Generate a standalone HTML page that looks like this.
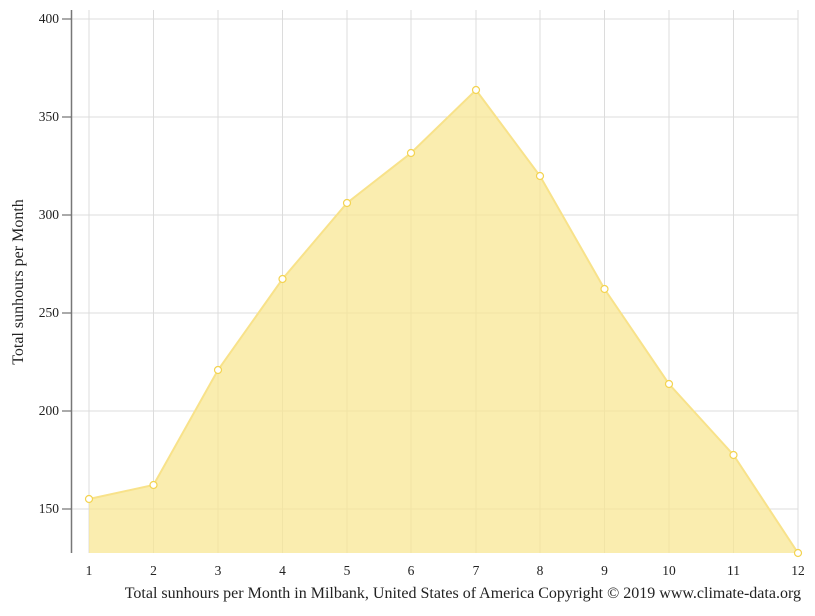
<!DOCTYPE html>
<html><head><style>body{margin:0;background:#fff}</style></head><body>
<svg width="815" height="611" xmlns="http://www.w3.org/2000/svg" font-family="Liberation Serif, serif">
<g stroke="#dcdcdc" stroke-width="1">
<line x1="89" y1="10" x2="89" y2="553"/><line x1="153.5" y1="10" x2="153.5" y2="553"/><line x1="218" y1="10" x2="218" y2="553"/><line x1="282.5" y1="10" x2="282.5" y2="553"/><line x1="347" y1="10" x2="347" y2="553"/><line x1="411" y1="10" x2="411" y2="553"/><line x1="476" y1="10" x2="476" y2="553"/><line x1="540" y1="10" x2="540" y2="553"/><line x1="604.5" y1="10" x2="604.5" y2="553"/><line x1="669" y1="10" x2="669" y2="553"/><line x1="733.5" y1="10" x2="733.5" y2="553"/><line x1="798" y1="10" x2="798" y2="553"/>
<line x1="71" y1="19" x2="798" y2="19"/><line x1="71" y1="117" x2="798" y2="117"/><line x1="71" y1="215" x2="798" y2="215"/><line x1="71" y1="313" x2="798" y2="313"/><line x1="71" y1="411" x2="798" y2="411"/><line x1="71" y1="509" x2="798" y2="509"/>
</g>
<polygon points="89,553 89,499 153.5,485 218,370 282.5,279 347,203 411,153 476,90 540,176 604.5,289 669,384 733.5,455 798,553" fill="#f8e794" fill-opacity="0.75"/>
<polyline points="89,499 153.5,485 218,370 282.5,279 347,203 411,153 476,90 540,176 604.5,289 669,384 733.5,455 798,553" fill="none" stroke="#f8e28a" stroke-width="2"/>
<g fill="#fff" stroke="#f3d350" stroke-width="1.2">
<circle cx="89" cy="499" r="3.5"/><circle cx="153.5" cy="485" r="3.5"/><circle cx="218" cy="370" r="3.5"/><circle cx="282.5" cy="279" r="3.5"/><circle cx="347" cy="203" r="3.5"/><circle cx="411" cy="153" r="3.5"/><circle cx="476" cy="90" r="3.5"/><circle cx="540" cy="176" r="3.5"/><circle cx="604.5" cy="289" r="3.5"/><circle cx="669" cy="384" r="3.5"/><circle cx="733.5" cy="455" r="3.5"/><circle cx="798" cy="553" r="3.5"/>
</g>
<line x1="71.5" y1="10" x2="71.5" y2="553" stroke="#777" stroke-width="1.5"/>
<g stroke="#555"><line x1="62" y1="19" x2="71" y2="19"/><line x1="62" y1="117" x2="71" y2="117"/><line x1="62" y1="215" x2="71" y2="215"/><line x1="62" y1="313" x2="71" y2="313"/><line x1="62" y1="411" x2="71" y2="411"/><line x1="62" y1="509" x2="71" y2="509"/></g>
<g font-size="13.5" text-anchor="end" fill="#222">
<text x="59" y="23">400</text><text x="59" y="121">350</text><text x="59" y="219">300</text><text x="59" y="317">250</text><text x="59" y="415">200</text><text x="59" y="513">150</text>
</g>
<g font-size="13.5" text-anchor="middle" fill="#222">
<text x="89" y="575">1</text><text x="153.5" y="575">2</text><text x="218" y="575">3</text><text x="282.5" y="575">4</text><text x="347" y="575">5</text><text x="411" y="575">6</text><text x="476" y="575">7</text><text x="540" y="575">8</text><text x="604.5" y="575">9</text><text x="669" y="575">10</text><text x="733.5" y="575">11</text><text x="798" y="575">12</text>
</g>
<text x="23" y="282" font-size="16" text-anchor="middle" transform="rotate(-90 23 282)" fill="#222">Total sunhours per Month</text>
<text x="801" y="598" font-size="16" text-anchor="end" fill="#222">Total sunhours per Month in Milbank, United States of America Copyright © 2019 www.climate-data.org</text>
</svg>
</body></html>
